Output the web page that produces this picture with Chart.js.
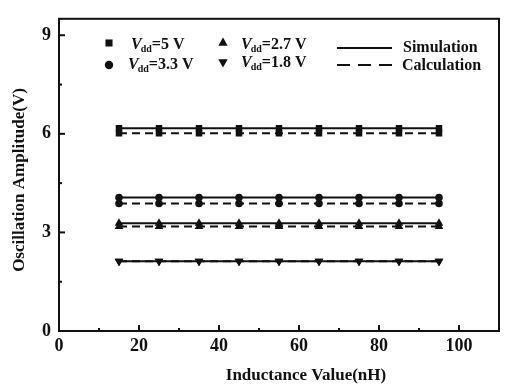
<!DOCTYPE html>
<html>
<head>
<meta charset="utf-8">
<script src="https://cdn.jsdelivr.net/npm/chart.js@4"></script>
<style>
  html, body { margin: 0; padding: 0; background: #fff; }
  #wrap { width: 506px; height: 385px; }
</style>
</head>
<body>
<div id="wrap"><canvas id="grafico" width="506" height="385"></canvas></div>
<script>
// dados
const indutancia = [15, 25, 35, 45, 55, 65, 75, 85, 95];
const sim5V  = [6.17, 6.17, 6.17, 6.17, 6.17, 6.17, 6.17, 6.17, 6.17];
const calc5V = [6.02, 6.02, 6.02, 6.02, 6.02, 6.02, 6.02, 6.02, 6.02];
const sim33  = [4.06, 4.06, 4.06, 4.06, 4.06, 4.06, 4.06, 4.06, 4.06];
const calc33 = [3.88, 3.88, 3.88, 3.88, 3.88, 3.88, 3.88, 3.88, 3.88];
const sim27  = [3.28, 3.28, 3.28, 3.28, 3.28, 3.28, 3.28, 3.28, 3.28];
const calc27 = [3.18, 3.18, 3.18, 3.18, 3.18, 3.18, 3.18, 3.18, 3.18];
const sim18  = [2.12, 2.12, 2.12, 2.12, 2.12, 2.12, 2.12, 2.12, 2.12];
const calc18 = [2.12, 2.12, 2.12, 2.12, 2.12, 2.12, 2.12, 2.12, 2.12];

const xTicks = [0, 20, 40, 60, 80, 100];
const xMinor = [10, 30, 50, 70, 90];
const yTicks = [0, 3, 6, 9];
const yMinor = [1.5, 4.5, 7.5];

const FONTE = "'Liberation Serif', 'Times New Roman', serif";
const PRETO = '#111';

function raio(tipo) {
    if (tipo === 'triangle') return 5;
    if (tipo === 'rect') return 4.6;
    return 3.8;
}

function serie(valores, tipo, rotacao, tracejado) {
    return {
        data: indutancia.map((x, i) => ({ x: x, y: valores[i] })),
        borderColor: PRETO,
        backgroundColor: PRETO,
        borderWidth: 2,
        borderDash: tracejado ? [8, 5] : [],
        pointStyle: tipo,
        rotation: rotacao,
        pointRadius: raio(tipo),
        pointBorderWidth: 0,
        showLine: true,
        tension: 0
    };
}

// moldura, ticks internos, títulos e legenda
const moldura = {
    id: 'moldura',
    afterDraw(chart) {
        const { ctx, chartArea: a, scales: { x, y } } = chart;
        ctx.save();
        ctx.strokeStyle = PRETO;
        ctx.fillStyle = PRETO;
        ctx.lineWidth = 2;
        ctx.setLineDash([]);
        ctx.strokeRect(a.left, a.top, a.right - a.left, a.bottom - a.top);

        const linha = (x1, y1, x2, y2) => {
            ctx.beginPath(); ctx.moveTo(x1, y1); ctx.lineTo(x2, y2); ctx.stroke();
        };
        xTicks.forEach(v => { const p = x.getPixelForValue(v); linha(p, a.bottom, p, a.bottom - 6); });
        xMinor.forEach(v => { const p = x.getPixelForValue(v); linha(p, a.bottom, p, a.bottom - 3); });
        yTicks.forEach(v => { const p = y.getPixelForValue(v); linha(a.left, p, a.left + 6, p); });
        yMinor.forEach(v => { const p = y.getPixelForValue(v); linha(a.left, p, a.left + 3, p); });

        // títulos dos eixos
        ctx.font = `bold 17px ${FONTE}`;
        ctx.textAlign = 'center';
        ctx.textBaseline = 'middle';
        ctx.fillText('Inductance Value(nH)', 306, 376);
        ctx.save();
        ctx.translate(20, 180);
        ctx.rotate(-Math.PI / 2);
        ctx.fillText('Oscillation Amplitude(V)', 0, 0);
        ctx.restore();

        // legenda
        const rotulo = (tx, ty, resto) => {
            ctx.textAlign = 'left';
            ctx.textBaseline = 'alphabetic';
            ctx.font = `italic bold 16px ${FONTE}`;
            ctx.fillText('V', tx, ty);
            let px = tx + ctx.measureText('V').width - 1;
            ctx.font = `bold 10px ${FONTE}`;
            ctx.fillText('dd', px, ty + 3);
            px += ctx.measureText('dd').width;
            ctx.font = `bold 16px ${FONTE}`;
            ctx.fillText(resto, px, ty);
        };
        const simbolo = (estilo, rot, cx, cy) => {
            Chart.helpers.drawPoint(ctx, { pointStyle: estilo, rotation: rot, radius: raio(estilo) + 0.4, borderWidth: 0 }, cx, cy);
        };
        ctx.fillStyle = PRETO;
        simbolo('rect', 0, 109, 43);
        rotulo(131, 49, '=5 V');
        simbolo('circle', 0, 109, 65);
        rotulo(128, 69, '=3.3 V');
        ctx.fillStyle = PRETO;
        simbolo('triangle', 0, 223, 43);
        rotulo(241, 49, '=2.7 V');
        simbolo('triangle', 180, 223, 62);
        rotulo(241, 67, '=1.8 V');

        ctx.lineWidth = 2;
        linha(337, 48, 392, 48);
        ctx.setLineDash([13, 8]);
        linha(337, 65, 392, 65);
        ctx.setLineDash([]);
        ctx.font = `bold 16px ${FONTE}`;
        ctx.textAlign = 'left';
        ctx.textBaseline = 'middle';
        ctx.fillText('Simulation', 403, 48);
        ctx.fillText('Calculation', 402, 66);
        ctx.restore();
    }
};

new Chart(document.getElementById('grafico'), {
    type: 'scatter',
    data: {
        datasets: [
            serie(sim5V, 'rect', 0, false),
            serie(calc5V, 'rect', 0, true),
            serie(sim33, 'circle', 0, false),
            serie(calc33, 'circle', 0, true),
            serie(sim27, 'triangle', 0, false),
            serie(calc27, 'triangle', 0, true),
            serie(sim18, 'triangle', 180, false),
            serie(calc18, 'triangle', 180, true)
        ]
    },
    options: {
        responsive: false,
        animation: false,
        layout: { padding: { left: 0, right: 7, top: 6, bottom: 0 } },
        plugins: { legend: { display: false }, tooltip: { enabled: false } },
        scales: {
            x: {
                type: 'linear', min: 0, max: 110,
                grid: { display: false, drawTicks: false },
                border: { display: false },
                afterBuildTicks: s => { s.ticks = xTicks.map(v => ({ value: v })); },
                afterFit: s => { s.height = 54; },
                ticks: { color: PRETO, padding: 5, font: { family: FONTE, size: 18, weight: 'bold' } }
            },
            y: {
                type: 'linear', min: 0, max: 9.5,
                grid: { display: false, drawTicks: false },
                border: { display: false },
                afterBuildTicks: s => { s.ticks = yTicks.map(v => ({ value: v })); },
                afterFit: s => { s.width = 59; },
                ticks: { color: PRETO, padding: 8, font: { family: FONTE, size: 18, weight: 'bold' } }
            }
        }
    },
    plugins: [moldura]
});
</script>
</body>
</html>
